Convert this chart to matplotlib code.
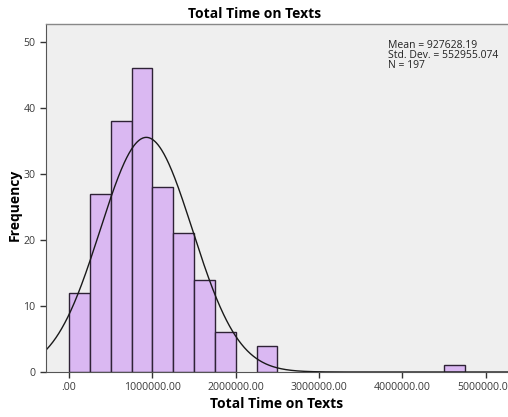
import numpy as np
import matplotlib
matplotlib.use("Agg")
import matplotlib.pyplot as plt

plt.rcParams['font.family'] = ['Open Sans', 'DejaVu Sans']

bin_edges = np.arange(0, 4750001, 250000)
counts = [12, 27, 38, 46, 28, 21, 14, 6, 0, 4, 0, 0, 0, 0, 0, 0, 0, 0, 1]
mean_val = 927628.19
std_val = 552955.074
n_val = 197
xticks = [0, 1000000, 2000000, 3000000, 4000000, 5000000]
xticklabels = ['.00', '1000000.00', '2000000.00', '3000000.00', '4000000.00', '5000000.00']
yticks = [0, 10, 20, 30, 40, 50]

W, H = 508, 417
fig = plt.figure(figsize=(W/100, H/100), dpi=100)
ax = fig.add_axes([46/W, 45/H, (W-46)/W + 0.01, (372-24)/H])
ax.set_facecolor('#efefef')

lefts = bin_edges[:-1]
width = 250000
for l, c in zip(lefts, counts):
    if c > 0:
        ax.bar(l, c, width=width, align='edge', color='#dab8f2', edgecolor='#2e2236', linewidth=1.0)

xs = np.linspace(-300000, 5400000, 800)
pdf = n_val * width / (std_val * np.sqrt(2*np.pi)) * np.exp(-0.5*((xs-mean_val)/std_val)**2)
ax.plot(xs, pdf, color='#1a1a1a', linewidth=1.0)

x_left = -276000
x_right = x_left + (W - 46 + 5) / 83.33 * 1e6
ax.set_xlim(x_left, x_right)
ax.set_ylim(0, 52.7)
ax.set_xticks(xticks)
ax.set_xticklabels(xticklabels)
ax.set_yticks(yticks)
ax.tick_params(axis='both', labelsize=7.6, colors='#333333', length=4, width=1)
for lab in ax.get_xticklabels() + ax.get_yticklabels():
    lab.set_color('#3a3a3a')
ax.spines['right'].set_visible(False)
ax.spines['top'].set_color('#888888')
ax.spines['top'].set_linewidth(1)
ax.spines['left'].set_color('#555555')
ax.spines['bottom'].set_color('#555555')

fig.text(255/W, 1 - 14/H, 'Total Time on Texts', ha='center', va='center', fontsize=10, fontweight='bold')
fig.text(277/W, 1 - 404/H, 'Total Time on Texts', ha='center', va='center', fontsize=10, fontweight='bold')
fig.text(15/W, 1 - 205/H, 'Frequency', ha='center', va='center', rotation=90, fontsize=10, fontweight='bold')

ax.text((388-46)/(W-46+5), 1 - (40-24)/(372-24),
        'Mean = 927628.19\nStd. Dev. = 552955.074\nN = 197',
        transform=ax.transAxes, ha='left', va='top', fontsize=7.5, linespacing=0.9, color='#222222')

fig.savefig('out.png', dpi=100, facecolor='white')
